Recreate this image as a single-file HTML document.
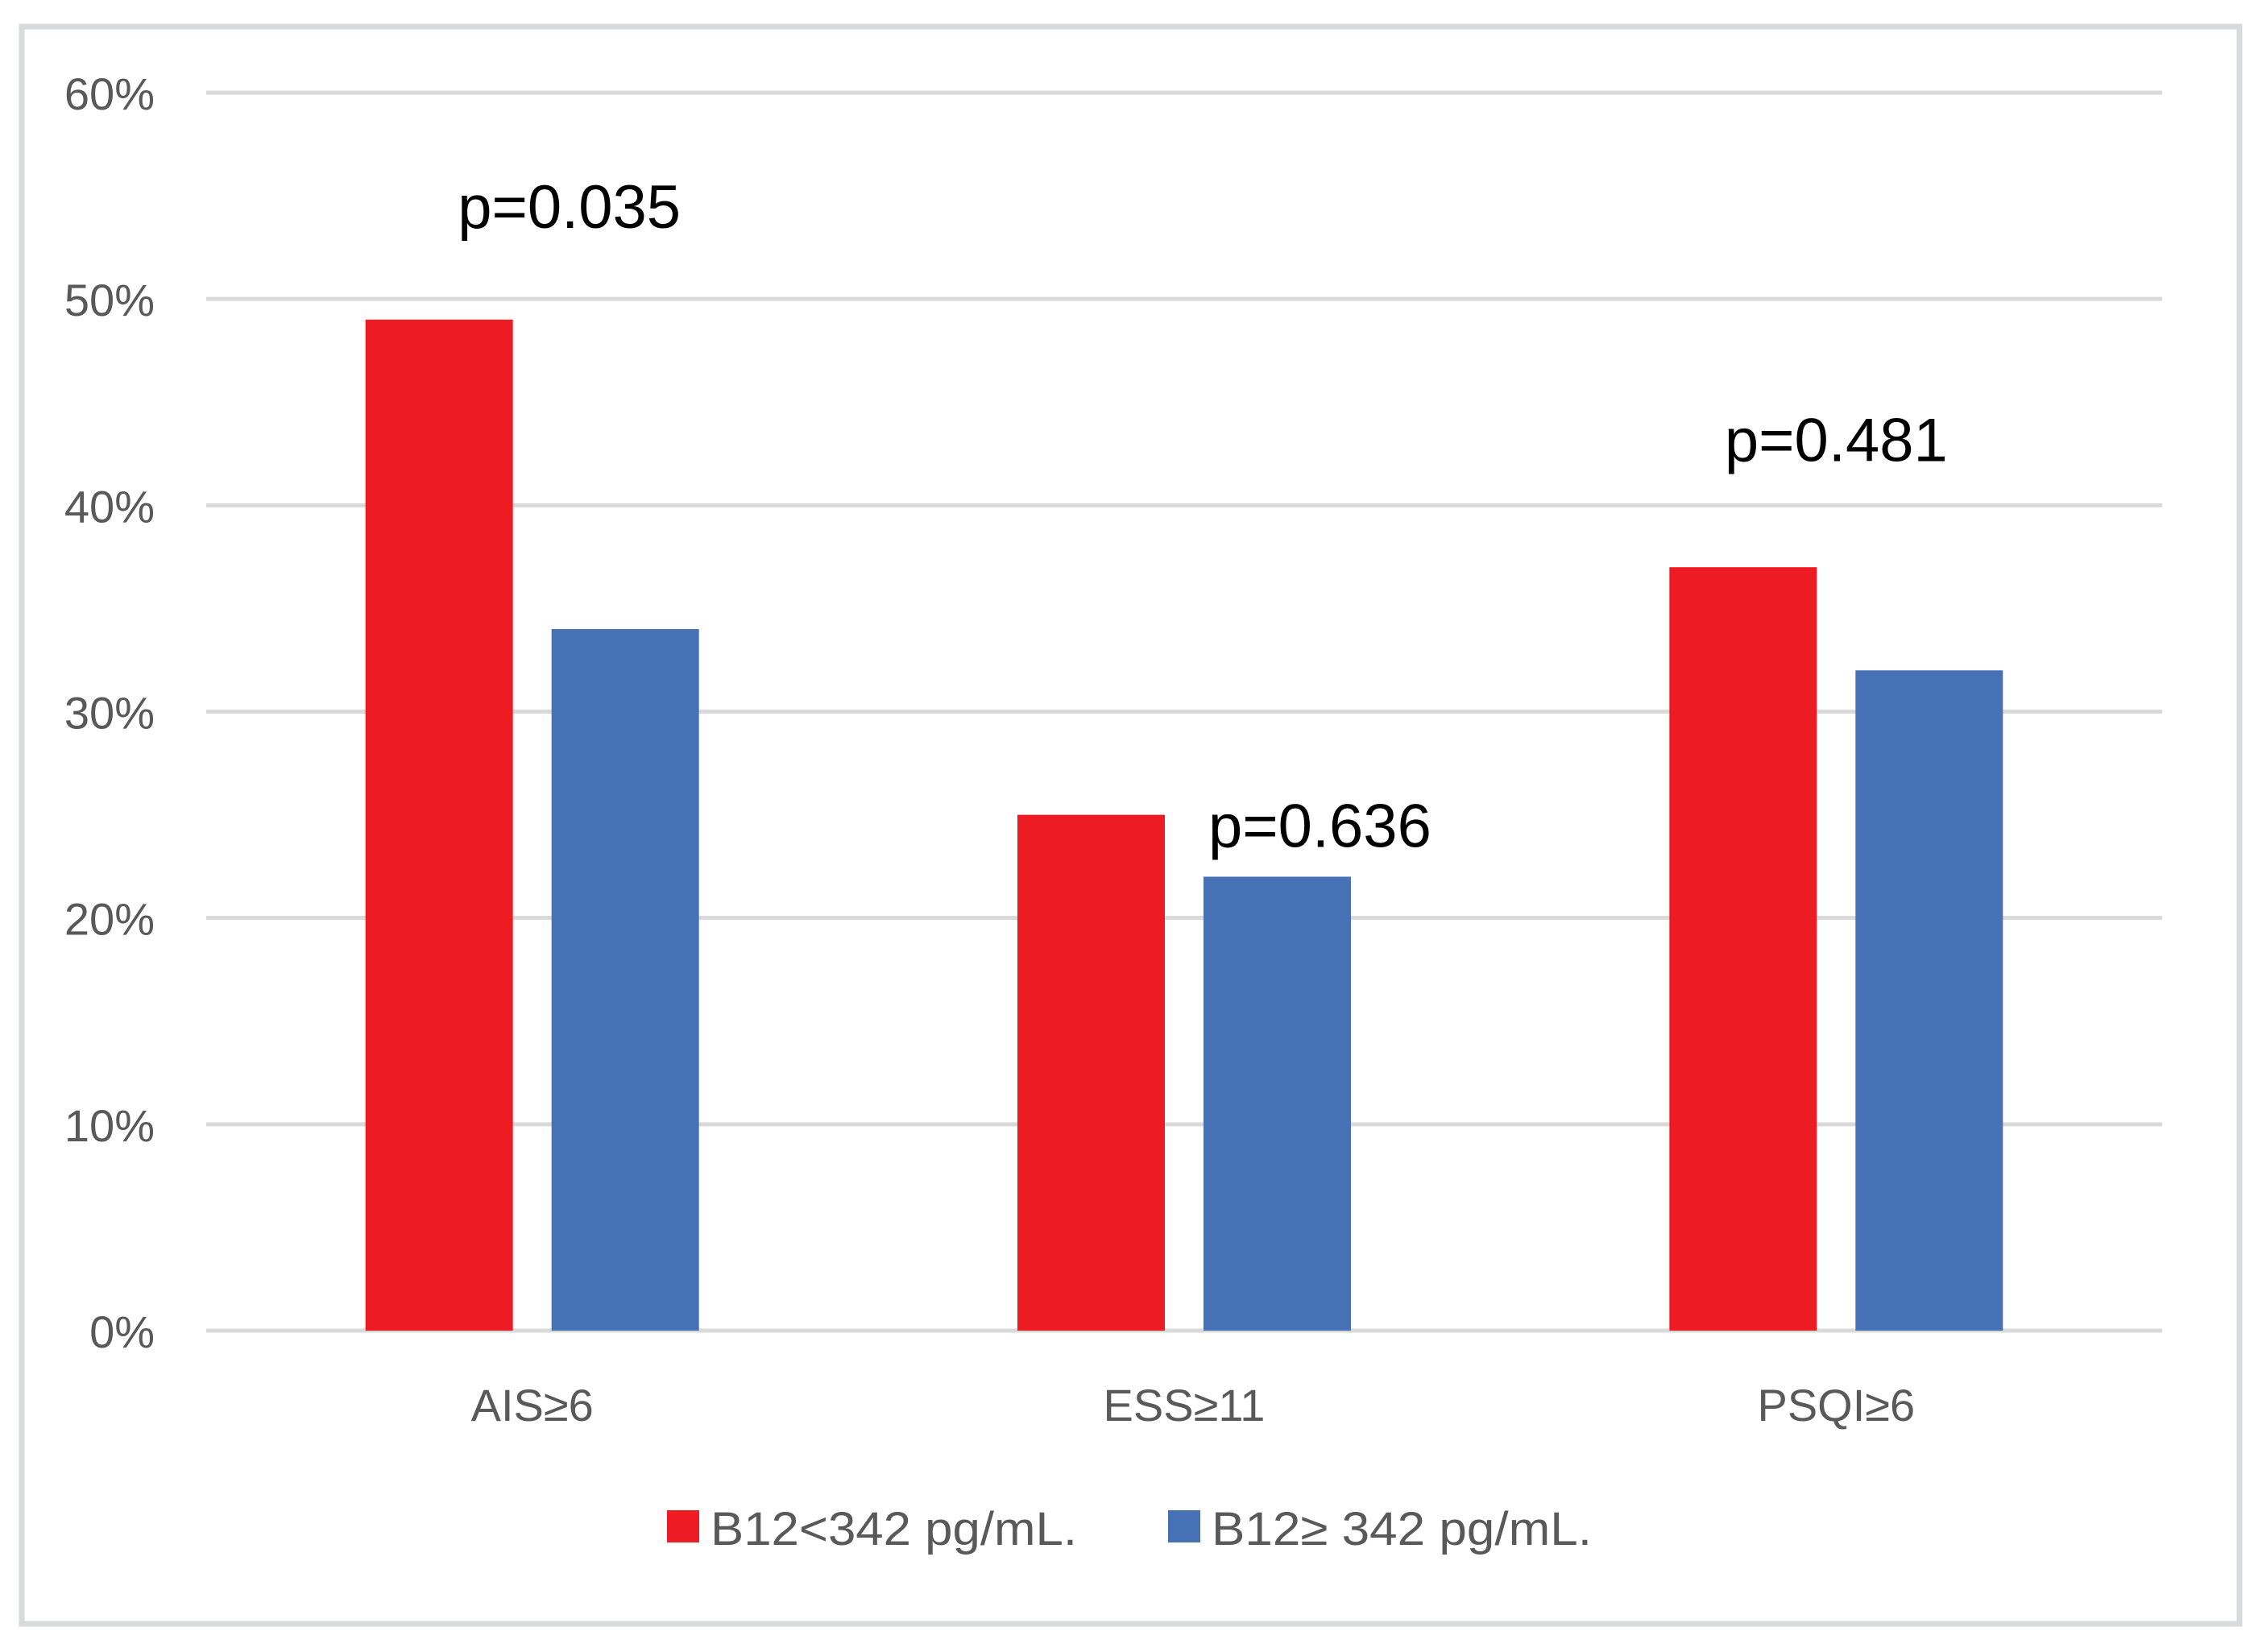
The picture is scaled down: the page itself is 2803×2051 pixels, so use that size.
<!DOCTYPE html>
<html><head><meta charset="utf-8"><style>
html,body{margin:0;padding:0;background:#fff;}
svg{display:block;font-family:"Liberation Sans",sans-serif;}
</style></head><body>
<svg id="chart" width="2803" height="2051" viewBox="0 0 2803 2051" xmlns="http://www.w3.org/2000/svg">
<rect x="27" y="33" width="2753" height="1983" fill="#fff" stroke="#d9dadb" stroke-width="7"/>
<g id="grid"></g><g id="bars"></g><g id="labels"></g>
<g>
<rect x="828" y="1875" width="40" height="40" fill="#ED1C24"/>
<text x="882" y="1918" font-size="58" fill="#595959" textLength="455" lengthAdjust="spacingAndGlyphs">B12&lt;342 pg/mL.</text>
<rect x="1450" y="1875" width="40" height="40" fill="#4672B5"/>
<text x="1504" y="1918" font-size="58" fill="#595959" textLength="472" lengthAdjust="spacingAndGlyphs">B12≥ 342 pg/mL.</text>
</g>
</svg>
<script>
const categories = ["AIS≥6", "ESS≥11", "PSQI≥6"];
const lowB12 = [49, 25, 37];
const highB12 = [34, 22, 32];
const yTicks = [0, 10, 20, 30, 40, 50, 60];
const pLabels = ["p=0.035", "p=0.636", "p=0.481"];
const pLabelValues = [54.5, 24.5, 43.2];

const NS = "http://www.w3.org/2000/svg";
const x0 = 256, x1 = 2684, yBase = 1652, yTop = 115;
const y = v => yBase - (v / 60) * (yBase - yTop);
const groupW = (x1 - x0) / categories.length;
const barW = 183, gap = 48;
const barX = (i, s) => x0 + groupW * i + groupW / 2 - gap / 2 - barW + s * (barW + gap);
function mk(tag, attrs, parent, text) {
  const e = document.createElementNS(NS, tag);
  for (const k in attrs) e.setAttribute(k, attrs[k]);
  if (text !== undefined) e.textContent = text;
  parent.appendChild(e);
  return e;
}
const grid = document.getElementById("grid"), bars = document.getElementById("bars"), labels = document.getElementById("labels");
yTicks.forEach(t => {
  const l = mk("line", {x1: x0, x2: x1, y1: y(t), y2: y(t), stroke: "#d9d9d9", "stroke-width": 5}, grid);
  
  
  const tx = mk("text", {x: 192, y: y(t) + 21, "font-size": 56, fill: "#595959", "text-anchor": "end"}, grid, t + "%");
  
  
});
categories.forEach((c, i) => {
  const r = mk("rect", {x: barX(i, 0), y: y(lowB12[i]), width: barW, height: yBase - y(lowB12[i]), fill: "#ED1C24"}, bars);
  
  
  const b = mk("rect", {x: barX(i, 1), y: y(highB12[i]), width: barW, height: yBase - y(highB12[i]), fill: "#4672B5"}, bars);
  
  
  const cx = x0 + groupW * i + groupW / 2;
  const t = mk("text", {x: cx, y: 1764, "font-size": 56, fill: "#595959", "text-anchor": "middle"}, labels, c);
  
  
  let px, anchor = "middle";
  if (i === 1) { px = barX(i, 1) + 6; anchor = "start"; }
  else if (i === 0) { px = cx + 46; }
  else { px = cx; }
  const p = mk("text", {x: px, y: y(pLabelValues[i]) + 27, "font-size": 76, fill: "#000", "text-anchor": anchor}, labels, pLabels[i]);
  
  
});
</script>
</body></html>
